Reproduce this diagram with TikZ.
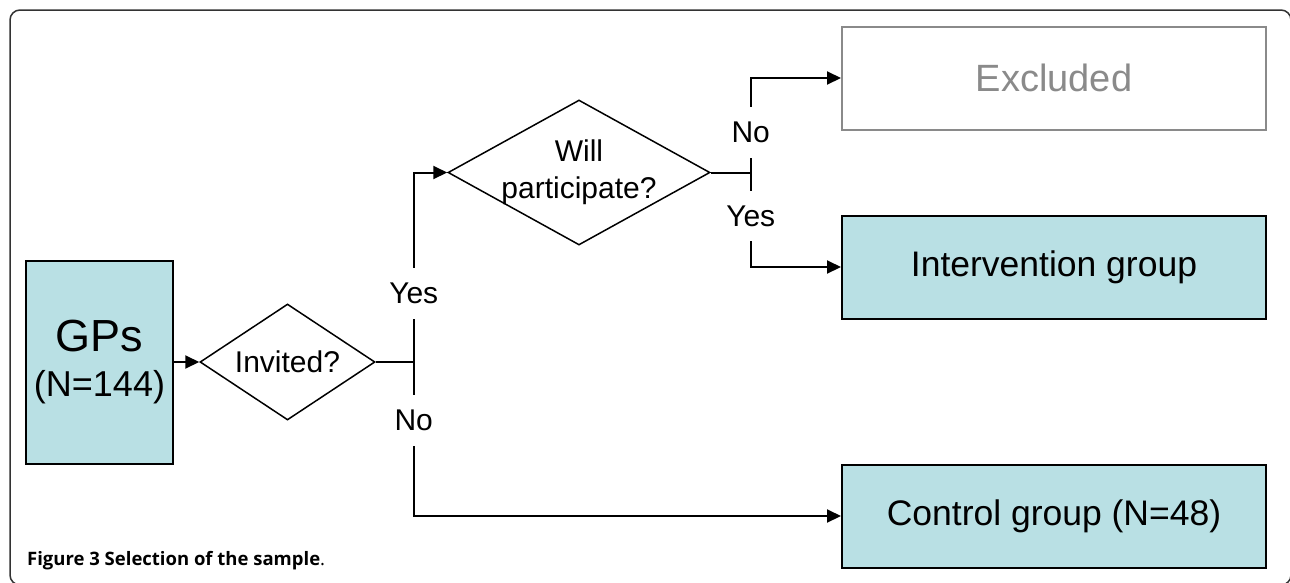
\documentclass[tikz,border=0pt]{standalone}
\usepackage{fontspec}
\setmainfont{Liberation Sans}
\newfontfamily\capfont{Open Sans}
\usepackage{tikz}
\usetikzlibrary{shapes.geometric}
\usetikzlibrary{arrows.meta}
\definecolor{boxfill}{RGB}{185,224,228}
\definecolor{exgray}{RGB}{138,138,138}
\tikzset{
  box/.style={draw, line width=2pt, fill=boxfill, minimum width=424pt, minimum height=103pt, inner sep=0pt, font=\fontsize{35.5}{40}\selectfont},
  decision/.style={draw, diamond, line width=1.5pt, inner sep=0pt},
  question/.style={inner sep=0pt, align=center, font=\fontsize{30}{37}\selectfont},
  conn/.style={line width=2pt},
  arr/.style={conn, -{Triangle[length=14pt,width=13pt]}},
  answer/.style={fill=white, inner xsep=2pt, inner ysep=15pt, font=\fontsize{30}{36}\selectfont},
}

\begin{document}
\begin{tikzpicture}[x=1pt, y=-1pt]
\useasboundingbox (0,0) rectangle (1290,582);
\draw[line width=1.5pt, draw=black!80, rounded corners=10pt] (10,10) rectangle (1291,585);

\node[box, minimum width=147pt, minimum height=203pt, align=center, font=\fontsize{36}{45}\selectfont] (gps) at (99.5,362) {{\fontsize{45}{45}\selectfont GPs}\\(N=144)};

\node[decision, minimum width=175pt, minimum height=116pt] (invited) at (287.5,362) {};
\node[question] (invitedtxt) at (invited.center) {Invited?};

\node[decision, minimum width=262pt, minimum height=145pt] (willpart) at (579,172.5) {};
\node[question] (willparttxt) at (willpart.center) {Will\\participate?};

\node[box, draw=exgray, fill=white, text=exgray, font=\fontsize{38}{44}\selectfont] (excluded) at (1054,78) {Excluded};
\node[box] (intervention) at (1054,267) {Intervention group};
\node[box] (control) at (1054,516) {Control group (N=48)};

\draw[arr] (gps.east) -- (invited.west);

\draw[conn] (invited.east) -- ++(38,0) coordinate (split1);
\draw[arr] (split1) -- node[answer, pos=0.36] (yes1) {Yes} (split1 |- willpart.west) -- (willpart.west);
\draw[arr] (split1) -- node[answer, pos=0.38] (no1) {No} (split1 |- control.west) -- (control.west);

\draw[conn] (willpart.east) -- ++(40,0) coordinate (split2);
\draw[arr] (split2) -- node[answer, pos=0.42] (no2) {No} (split2 |- excluded.west) -- (excluded.west);
\draw[arr] (split2) -- node[answer, pos=0.46] (yes2) {Yes} (split2 |- intervention.west) -- (intervention.west);

\node[anchor=base west, inner sep=0pt, font=\capfont\fontsize{18.5}{22}\selectfont] (caption) at (27,565) {\textbf{Figure 3 Selection of the sample}.};

\end{tikzpicture}
\end{document}
